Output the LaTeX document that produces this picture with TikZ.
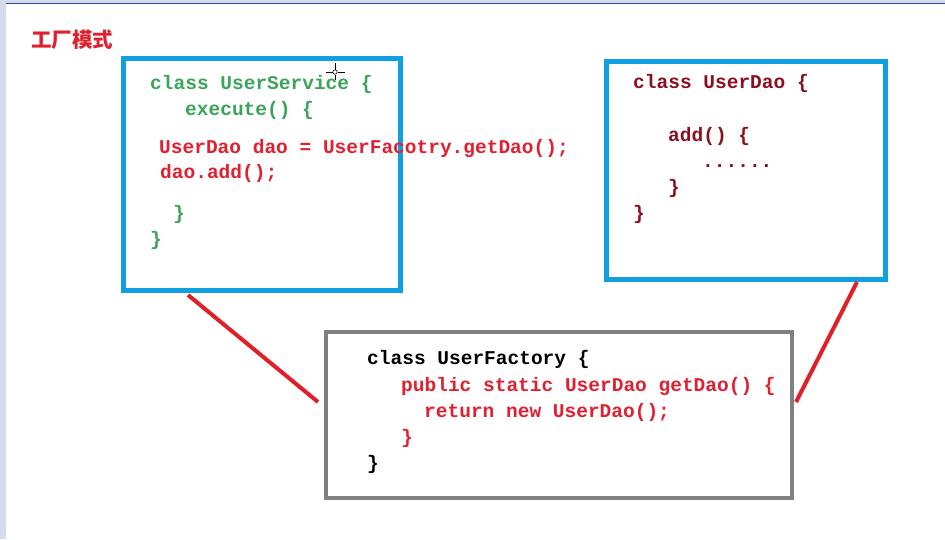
\documentclass[tikz,border=0pt]{standalone}
\usepackage{fontspec}
\setmonofont{Liberation Mono}
\newfontfamily\cjk{Noto Sans CJK SC}
\definecolor{boxblue}{HTML}{10A0E0}
\definecolor{boxgray}{HTML}{808080}
\definecolor{codegreen}{HTML}{3AA55A}
\definecolor{codered}{HTML}{E02030}
\definecolor{codedark}{HTML}{8A1020}
\definecolor{linered}{HTML}{E02028}
\definecolor{edgeblue}{HTML}{3048A0}
\definecolor{edgelight}{HTML}{D4DCEC}
\begin{document}
\begin{tikzpicture}[x=1pt,y=-1pt,
  code/.style={anchor=base west,inner sep=0pt,font=\fontsize{19.5}{21}\ttfamily\bfseries},
  bluebox/.style={draw=boxblue,line width=5pt,fill=white},
  graybox/.style={draw=boxgray,line width=4pt,fill=white},
  link/.style={draw=linered,line width=4pt}]
\useasboundingbox (0,0) rectangle (945,539);
\fill[white] (0,0) rectangle (945,539);
% window edges
\fill[edgelight] (0,0) rectangle (945,3);
\draw[edgeblue,line width=1pt] (6,3.5) -- (945,3.5);
\fill[edgelight] (0,0) rectangle (6,539);
% title
\node[anchor=base west,inner sep=0pt,text=codered,font=\fontsize{20.5}{22}\cjk\bfseries] (title) at (31,47) {工厂模式};
% boxes
\draw[bluebox] (123.5,58.5) rectangle (400.5,290);
\draw[bluebox] (606.5,61.5) rectangle (885.5,279.5);
\draw[graybox] (326,332) rectangle (792,498);
% red connectors
\coordinate (s1) at (188,295);
\coordinate (s2) at (318,402);
\coordinate (d1) at (857,282);
\coordinate (d2) at (796,402);
\draw[link] (s1) -- (s2);
\draw[link] (d1) -- (d2);
% UserService code
\node[code,text=codegreen] (us1) at (150,89) {class UserService \{};
\node[code,text=codegreen] (us2) at (185,115) {execute() \{};
\node[code,text=codered] (us3) at (159,153) {UserDao dao = UserFacotry.getDao();};
\node[code,text=codered] (us4) at (160,178) {dao.add();};
\node[code,text=codegreen] (us5) at (173,219) {\}};
\node[code,text=codegreen] (us6) at (150,245) {\}};
% cursor
\draw[black,line width=0.6pt] (335,72) circle (2.2);
\draw[black,line width=0.6pt] (335,63) -- (335,69.5) (335,74.5) -- (335,80);
\draw[black,line width=0.6pt] (326,72) -- (332.5,72) (337.5,72) -- (345,72);
% UserDao code
\node[code,text=codedark] (ud1) at (633,88) {class UserDao \{};
\node[code,text=codedark] (ud2) at (668,141) {add() \{};
\node[code,text=codedark] (ud3) at (702,167) {......};
\node[code,text=codedark] (ud4) at (668,193) {\}};
\node[code,text=codedark] (ud5) at (633,219) {\}};
% UserFactory code
\node[code,text=black] (uf1) at (367,364) {class UserFactory \{};
\node[code,text=codered] (uf2) at (401,391) {public static UserDao getDao() \{};
\node[code,text=codered] (uf3) at (424,417) {return new UserDao();};
\node[code,text=codered] (uf4) at (401,443) {\}};
\node[code,text=black] (uf5) at (367,469) {\}};
\end{tikzpicture}
\end{document}
